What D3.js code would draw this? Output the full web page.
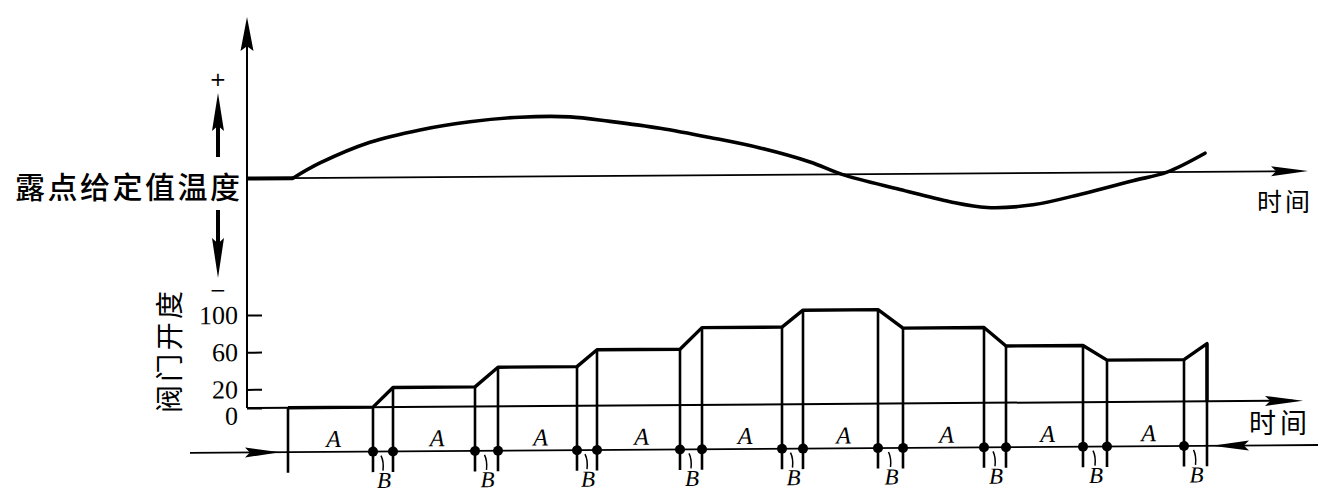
<!DOCTYPE html>
<html>
<head>
<meta charset="utf-8">
<script src="https://cdn.jsdelivr.net/npm/d3@7"></script>
<style>
  html, body { margin: 0; padding: 0; background: #fff; }
  svg { display: block; }
</style>
</head>
<body>
<svg id="chart" width="1318" height="493"></svg>
<script>
// Dew-point deviation from its setpoint (top) and the stepped valve opening (bottom)

// Deviation of dew point from the setpoint, in units of the full swing
const curveTime      = [4.6, 7.3, 12.3, 17.3, 22.3, 27.3, 32.3, 36.3, 41.3, 46.3, 51.3, 56.3, 59.5, 65.3, 70.3, 74.0, 78.6, 83.6, 88.6, 92.0, 95.8];
const curveDeviation = [0, 0.25, 0.59, 0.79, 0.92, 0.99, 0.99, 0.91, 0.79, 0.63, 0.45, 0.21, 0, -0.26, -0.47, -0.57, -0.53, -0.35, -0.14, 0, 0.31];

// Valve opening (%) : a plateau, then a short ramp to the next plateau
const valveStartTime = 4.1;
const rampStartTime  = [12.6, 22.8, 33.0, 43.3, 53.5, 63.1, 73.7, 83.6, 93.7];
const rampEndTime    = [14.6, 25.1, 35.0, 45.5, 55.6, 65.6, 75.9, 86.0, 96.0];
const valveLevels    = [0, 21, 42, 60, 83, 101, 81, 61, 45, 62];
const valveTicks     = [0, 20, 60, 100];

// Text
const setpointLabel = "露点给定值温度";
const valveLabel    = "阀门开度";
const timeLabel     = "时间";
const plusLabel     = "+";
const minusLabel    = "−";
const holdLabel     = "A";
const stepLabel     = "B";

// ---------------------------------------------------------------------------
const svg = d3.select("#chart");
const ink = "#000";

const x    = d3.scaleLinear().domain([0, 106]).range([247, 1307]);
const yDev = d3.scaleLinear().domain([-1, 1]).range([238.5, 118.5]);
const yV   = d3.scaleLinear().domain([0, 100]).range([408, 315]);

const timingY = 452.5;   // lower timing line
const stemEnd = 473;     // where the drop lines stop
const labelBBase = 489;

// long narrow arrowhead with a notched back
function spear(tx, ty, dx, dy, len, hw) {
  const bx = tx - dx * len, by = ty - dy * len;
  const nx = -dy, ny = dx;
  const p = d3.path();
  p.moveTo(tx, ty);
  p.lineTo(bx + nx * hw, by + ny * hw);
  p.lineTo(bx + dx * len * 0.14, by + dy * len * 0.14);
  p.lineTo(bx - nx * hw, by - ny * hw);
  p.closePath();
  return p.toString();
}

// whole drawing carries a slight slant
const g = svg.append("g")
  .attr("transform", `translate(${x(0)},0) skewY(-0.4) translate(${-x(0)},0)`);

// ---- axes ------------------------------------------------------------------
const xEndTop = 1308, xEndLow = 1303;

g.append("line")
  .attr("x1", x(0)).attr("x2", x(0))
  .attr("y1", 30).attr("y2", yV(0))
  .attr("stroke", ink).attr("stroke-width", 2);
g.append("path").attr("d", spear(x(0), 17, 0, -1, 34, 6.5)).attr("fill", ink);

g.append("line")
  .attr("x1", x(0)).attr("x2", xEndTop - 10)
  .attr("y1", yDev(0)).attr("y2", yDev(0))
  .attr("stroke", ink).attr("stroke-width", 1.8);
g.append("path").attr("d", spear(xEndTop, yDev(0), 1, 0, 37, 5)).attr("fill", ink);

g.append("line")
  .attr("x1", x(0)).attr("x2", xEndLow - 10)
  .attr("y1", yV(0)).attr("y2", yV(0))
  .attr("stroke", ink).attr("stroke-width", 2);
g.append("path").attr("d", spear(xEndLow, yV(0), 1, 0, 38, 5)).attr("fill", ink);

g.append("line")
  .attr("x1", 190).attr("x2", 1318)
  .attr("y1", timingY).attr("y2", timingY)
  .attr("stroke", ink).attr("stroke-width", 1.8);
g.append("path").attr("d", spear(280, timingY, 1, 0, 35, 5)).attr("fill", ink);
g.append("path").attr("d", spear(1212, timingY, -1, 0, 37, 5)).attr("fill", ink);

// valve opening ticks
const yAxis = d3.axisLeft(yV)
  .tickValues(valveTicks)
  .tickSizeInner(-15).tickSizeOuter(0).tickPadding(9);
const ya = g.append("g").attr("transform", `translate(${x(0)},0)`).call(yAxis);
ya.select(".domain").remove();
ya.selectAll(".tick line").attr("stroke", ink).attr("stroke-width", 2);
ya.selectAll(".tick text")
  .attr("fill", ink)
  .attr("dy", d => d === 0 ? "0.62em" : "0.32em")
  .style("font-family", "'Liberation Serif', 'DejaVu Serif', serif")
  .style("font-size", "26px");

// ---- dew point deviation curve --------------------------------------------
g.append("line")
  .attr("x1", x(0)).attr("x2", x(curveTime[0]))
  .attr("y1", yDev(0)).attr("y2", yDev(0))
  .attr("stroke", ink).attr("stroke-width", 4);

const devLine = d3.line()
  .x((d, i) => x(curveTime[i]))
  .y(d => yDev(d))
  .curve(d3.curveCatmullRom.alpha(0.5));
g.append("path")
  .attr("d", devLine(curveDeviation))
  .attr("fill", "none").attr("stroke", ink)
  .attr("stroke-width", 3.6).attr("stroke-linecap", "round");

// ---- valve opening profile -------------------------------------------------
const valvePts = [[valveStartTime, valveLevels[0]]];
rampStartTime.forEach((t, i) => {
  valvePts.push([t, valveLevels[i]]);
  valvePts.push([rampEndTime[i], valveLevels[i + 1]]);
});
valvePts.push([rampEndTime[rampEndTime.length - 1], 0]);

g.append("path")
  .attr("d", d3.line().x(d => x(d[0])).y(d => yV(d[1]))(valvePts))
  .attr("fill", "none").attr("stroke", ink)
  .attr("stroke-width", 3.4).attr("stroke-linejoin", "round");

// drop lines from the profile to below the timing line
const drops = [{ t: valveStartTime, v: 0, dot: false }];
rampStartTime.forEach((t, i) => {
  drops.push({ t, v: valveLevels[i], dot: true });
  drops.push({ t: rampEndTime[i], v: valveLevels[i + 1], dot: i < rampStartTime.length - 1 });
});

g.selectAll("line.drop").data(drops).join("line")
  .attr("class", "drop")
  .attr("x1", d => x(d.t)).attr("x2", d => x(d.t))
  .attr("y1", d => yV(d.v)).attr("y2", stemEnd)
  .attr("stroke", ink).attr("stroke-width", 2.6);

g.selectAll("circle.node").data(drops.filter(d => d.dot)).join("circle")
  .attr("class", "node")
  .attr("cx", d => x(d.t)).attr("cy", timingY)
  .attr("r", 5).attr("fill", ink);

// hold intervals (A) between ramps, step actions (B) at each ramp
const holds = rampStartTime.map((t, i) => ((i === 0 ? valveStartTime : rampEndTime[i - 1]) + t) / 2);
const steps = rampStartTime.map((t, i) => (t + rampEndTime[i]) / 2);

const serifItalic = "'Liberation Serif', 'DejaVu Serif', serif";

g.selectAll("text.hold").data(holds).join("text")
  .attr("class", "hold")
  .attr("x", d => x(d) + 3).attr("y", timingY - 5)
  .attr("text-anchor", "middle")
  .style("font-family", serifItalic).style("font-style", "italic")
  .style("font-size", "24px").attr("fill", ink)
  .text(holdLabel);

g.selectAll("path.leader").data(steps).join("path")
  .attr("class", "leader")
  .attr("d", d => `M${x(d) - 2},${timingY + 4} Q${x(d) + 1},${timingY + 10} ${x(d)},${timingY + 19}`)
  .attr("fill", "none").attr("stroke", ink).attr("stroke-width", 1.5);

g.selectAll("text.step").data(steps).join("text")
  .attr("class", "step")
  .attr("x", d => x(d) + 1).attr("y", labelBBase)
  .attr("text-anchor", "middle")
  .style("font-family", serifItalic).style("font-style", "italic")
  .style("font-size", "23px").attr("fill", ink)
  .text(stepLabel);

// ---- labels outside the plot ----------------------------------------------
const cjk = "'Noto Sans CJK SC', 'Noto Sans CJK TC', sans-serif";

svg.append("text")
  .attr("x", 15).attr("y", 185)
  .attr("dominant-baseline", "central")
  .attr("textLength", 225).attr("lengthAdjust", "spacing")
  .style("font-family", cjk).style("font-size", "30px").style("font-weight", 500).attr("fill", ink)
  .text(setpointLabel);

svg.append("text")
  .attr("x", 1257).attr("y", 200)
  .attr("dominant-baseline", "central")
  .attr("textLength", 53).attr("lengthAdjust", "spacing")
  .style("font-family", cjk).style("font-size", "25px").attr("fill", ink)
  .text(timeLabel);

svg.append("text")
  .attr("x", 1249).attr("y", 421)
  .attr("dominant-baseline", "central")
  .attr("textLength", 58).attr("lengthAdjust", "spacing")
  .style("font-family", cjk).style("font-size", "27px").attr("fill", ink)
  .text(timeLabel);

svg.append("text")
  .attr("transform", "translate(168,352) rotate(-90)")
  .attr("text-anchor", "middle")
  .attr("dominant-baseline", "central")
  .attr("textLength", 122).attr("lengthAdjust", "spacing")
  .style("font-family", cjk).style("font-size", "28px").attr("fill", ink)
  .text(valveLabel);

// direction of deviation: above the setpoint (+), below it (−)
svg.append("text")
  .attr("x", 218).attr("y", 79)
  .attr("text-anchor", "middle").attr("dominant-baseline", "central")
  .style("font-family", "'DejaVu Sans', sans-serif").style("font-size", "20px").attr("fill", ink)
  .text(plusLabel);
svg.append("text")
  .attr("x", 218).attr("y", 290)
  .attr("text-anchor", "middle").attr("dominant-baseline", "central")
  .style("font-family", "'DejaVu Sans', sans-serif").style("font-size", "20px").attr("fill", ink)
  .text(minusLabel);

svg.append("path").attr("d", spear(218, 93, 0, -1, 38, 6)).attr("fill", ink);
svg.append("line").attr("x1", 218).attr("x2", 218).attr("y1", 125).attr("y2", 157)
  .attr("stroke", ink).attr("stroke-width", 4);
svg.append("path").attr("d", spear(218, 278, 0, 1, 40, 6)).attr("fill", ink);
svg.append("line").attr("x1", 218).attr("x2", 218).attr("y1", 210).attr("y2", 244)
  .attr("stroke", ink).attr("stroke-width", 4);
</script>
</body>
</html>
